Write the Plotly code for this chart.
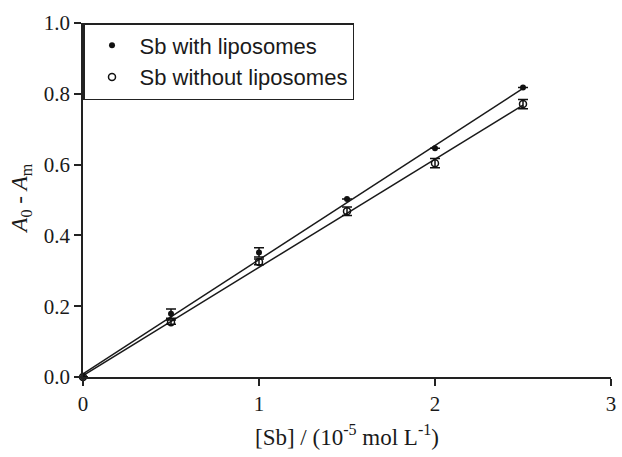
import plotly.graph_objects as go

conc = [0.0, 0.5, 1.0, 1.5, 2.0, 2.5]
with_lipo = [0.0, 0.179, 0.352, 0.503, 0.646, 0.818]
with_err = [0.0, 0.013, 0.013, 0.0, 0.0, 0.0]
without_lipo = [0.0, 0.155, 0.325, 0.468, 0.604, 0.771]
without_err = [0.0, 0.006, 0.008, 0.012, 0.013, 0.013]

fit_x = [0.0, 2.5]
fit_with = [0.009, 0.815]
fit_without = [0.004, 0.768]

serif = "Liberation Serif"
sans = "Liberation Sans"
ink = "#1a1a1a"

fig = go.Figure()
fig.add_trace(go.Scatter(x=fit_x, y=fit_with, mode="lines", line=dict(color=ink, width=1.5),
                         showlegend=False, hoverinfo="skip", cliponaxis=False))
fig.add_trace(go.Scatter(x=fit_x, y=fit_without, mode="lines", line=dict(color=ink, width=1.5),
                         showlegend=False, hoverinfo="skip", cliponaxis=False))
fig.add_trace(go.Scatter(
    x=conc, y=with_lipo, mode="markers", name="Sb with liposomes",
    marker=dict(symbol="circle", size=6, color="#111111"),
    error_y=dict(type="data", array=with_err, color="#111111", thickness=1.5, width=5),
    cliponaxis=False))
fig.add_trace(go.Scatter(
    x=conc, y=without_lipo, mode="markers", name="Sb without liposomes",
    marker=dict(symbol="circle-open", size=7, color="#111111", line=dict(width=1.5)),
    error_y=dict(type="data", array=without_err, color="#111111", thickness=1.5, width=5),
    cliponaxis=False))

fig.update_layout(
    width=622, height=457,
    margin=dict(l=83, r=6, t=23, b=80),
    paper_bgcolor="white", plot_bgcolor="white",
    legend=dict(x=0, y=1, xanchor="left", yanchor="top",
                bordercolor="#222222", borderwidth=1.5, bgcolor="white",
                font=dict(family=sans, size=22, color=ink),
                itemwidth=45, tracegroupgap=0),
    xaxis=dict(range=[0, 3], tickvals=[0, 1, 2, 3], ticks="outside", ticklen=7,
               tickwidth=1.5, tickcolor="#222222",
               showline=True, linecolor="#222222", linewidth=1.5, showgrid=False, zeroline=False,
               tickfont=dict(family=serif, size=21, color=ink),
               title=dict(text="[Sb] / (10<sup>-5</sup> mol L<sup>-1</sup>)",
                          font=dict(family=serif, size=23, color=ink), standoff=14)),
    yaxis=dict(range=[0, 1.0], tickvals=[0, 0.2, 0.4, 0.6, 0.8, 1.0], tickformat=".1f",
               ticks="outside", ticklen=7, tickwidth=1.5, tickcolor="#222222",
               showline=True, linecolor="#222222", linewidth=1.5, showgrid=False, zeroline=False,
               tickfont=dict(family=serif, size=21, color=ink)),
    annotations=[dict(text="<i>A</i><sub>0</sub> - <i>A</i><sub>m</sub>",
                      xref="paper", yref="paper", x=-0.118, y=0.503,
                      xanchor="center", yanchor="middle", textangle=-90, showarrow=False,
                      font=dict(family=serif, size=23, color=ink))],
)

fig.write_html("out.html")
